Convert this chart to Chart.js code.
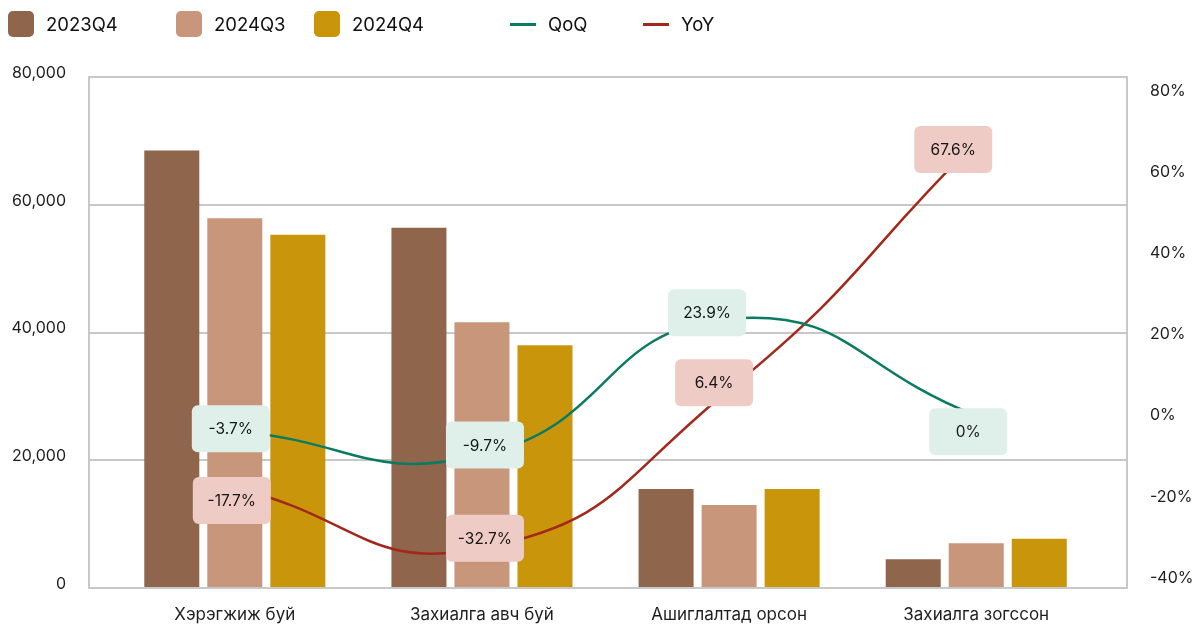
<!DOCTYPE html>
<html>
<head>
<meta charset="utf-8">
<script src="https://cdn.jsdelivr.net/npm/chart.js@4"></script>
<style>
html,body{margin:0;padding:0;background:#fff;}
#wrap{position:relative;width:1201px;height:626px;overflow:hidden;}
canvas{position:absolute;left:0;top:0;}
#legend{position:absolute;left:0;top:0;width:1201px;height:50px;font-family:Inter,"Noto Sans",sans-serif;font-size:18.5px;color:#111;z-index:2;}
.item{position:absolute;top:11px;height:26px;display:flex;align-items:center;white-space:nowrap;}
.sw{width:26px;height:26px;border-radius:5px;margin-right:12px;}
.ln{width:26px;height:3px;margin-right:12px;}
</style>
</head>
<body>
<div id="wrap">
  <div id="legend"></div>
  <canvas id="c" width="1201" height="626"></canvas>
</div>
<script>
// ---- data ----
const categories = ["Хэрэгжиж буй", "Захиалга авч буй", "Ашиглалтад орсон", "Захиалга зогссон"];
const q4_2023 = [68500, 56400, 15500, 4500];
const q3_2024 = [57900, 41600, 13000, 7000];
const q4_2024 = [55300, 38000, 15500, 7700];
const qoq = [-3.7, -9.7, 23.9, 0];
const yoy = [-17.7, -32.7, 6.4, 67.6];
const leftTicks = [0, 20000, 40000, 60000, 80000];
const rightTicks = [-40, -20, 0, 20, 40, 60, 80];
const seriesNames = ["2023Q4", "2024Q3", "2024Q4", "QoQ", "YoY"];

// ---- styles ----
const colors = ["#8f654b", "#c8967a", "#c9960b", "#0b7a62", "#a3281c"];
const labelBg = {QoQ: "#dff0eb", YoY: "#efcbc5"};
// label nudges (relative to each point) to avoid overlaps
const labelNudge = {
  QoQ: [[-4, -2], [3, -10], [-22, -6], [-8, 16]],
  YoY: [[-3, 13], [3, -10], [-15, -7], [-23, 8]]
};

// legend (HTML)
const legendX = [8, 176, 314, 510, 643];
const lg = document.getElementById('legend');
seriesNames.forEach((n, i) => {
  const it = document.createElement('div');
  it.className = 'item';
  it.style.left = legendX[i] + 'px';
  const s = document.createElement('span');
  s.className = i < 3 ? 'sw' : 'ln';
  s.style.background = colors[i];
  it.appendChild(s);
  const t = document.createElement('span');
  t.textContent = n;
  it.appendChild(t);
  lg.appendChild(it);
});

const labelPlugin = {
  id: 'boxLabels',
  afterDatasetsDraw(chart) {
    const ctx = chart.ctx;
    chart.data.datasets.forEach((ds, di) => {
      if (ds.type !== 'line') return;
      const meta = chart.getDatasetMeta(di);
      const nudges = labelNudge[ds.label];
      meta.data.forEach((pt, j) => {
        const cx = pt.x + nudges[j][0];
        const cy = pt.y + nudges[j][1];
        const w = 78, h = 47;
        ctx.save();
        ctx.fillStyle = labelBg[ds.label];
        ctx.beginPath();
        ctx.roundRect(cx - w / 2, cy - h / 2, w, h, 6);
        ctx.fill();
        ctx.fillStyle = '#161616';
        ctx.font = '15.5px Inter, "Noto Sans", sans-serif';
        ctx.textAlign = 'center';
        ctx.textBaseline = 'middle';
        ctx.fillText(ds.data[j] + '%', cx, cy + 1);
        ctx.restore();
      });
    });
  }
};

const gridColor = '#c8c8c8';
const fontFam = 'Inter, "Noto Sans", sans-serif';

new Chart(document.getElementById('c'), {
  data: {
    labels: categories,
    datasets: [
      {type: 'line', label: 'QoQ', data: qoq, yAxisID: 'y1', borderColor: colors[3], borderWidth: 2.5, pointRadius: 0, tension: 0.5, order: 0},
      {type: 'line', label: 'YoY', data: yoy, yAxisID: 'y1', borderColor: colors[4], borderWidth: 2.5, pointRadius: 0, tension: 0.5, order: 0},
      {type: 'bar', label: '2023Q4', data: q4_2023, yAxisID: 'y', backgroundColor: colors[0], categoryPercentage: 0.765, barPercentage: 0.873, order: 1},
      {type: 'bar', label: '2024Q3', data: q3_2024, yAxisID: 'y', backgroundColor: colors[1], categoryPercentage: 0.765, barPercentage: 0.873, order: 1},
      {type: 'bar', label: '2024Q4', data: q4_2024, yAxisID: 'y', backgroundColor: colors[2], categoryPercentage: 0.765, barPercentage: 0.873, order: 1}
    ]
  },
  options: {
    responsive: false,
    animation: false,
    devicePixelRatio: 1,
    layout: {padding: {top: 77, left: 0, right: 0, bottom: 0}},
    plugins: {legend: {display: false}, tooltip: {enabled: false}},
    scales: {
      x: {
        type: 'category',
        offset: true,
        grid: {display: false, drawTicks: false},
        border: {display: false},
        ticks: {color: '#1e1e1e', font: {family: fontFam, size: 17}, padding: 17, maxRotation: 0},
        afterFit(s) { s.height = 38; },
        afterUpdate(s) { s._startValue = -0.59; s._valueRange = 4.2; }
      },
      y: {
        position: 'left',
        min: 0, max: 80000,
        afterBuildTicks(s) { s.ticks = leftTicks.map(v => ({value: v})); },
        grid: {color: gridColor, lineWidth: 2, drawTicks: false},
        border: {display: true, color: gridColor, width: 2},
        ticks: {color: '#1e1e1e', font: {family: fontFam, size: 16}, padding: 23, labelOffset: -4,
          callback: v => Number(v).toLocaleString('en-US')},
        afterFit(s) { s.width = 89; }
      },
      y1: {
        position: 'right',
        min: -42.5, max: 83.5,
        afterBuildTicks(s) { s.ticks = rightTicks.map(v => ({value: v})); },
        grid: {display: false, drawTicks: false},
        border: {display: true, color: gridColor, width: 2},
        ticks: {color: '#1e1e1e', font: {family: fontFam, size: 16}, padding: 23, callback: v => v + '%'},
        afterFit(s) { s.width = 74; }
      }
    }
  },
  plugins: [labelPlugin]
});
</script>
</body>
</html>
